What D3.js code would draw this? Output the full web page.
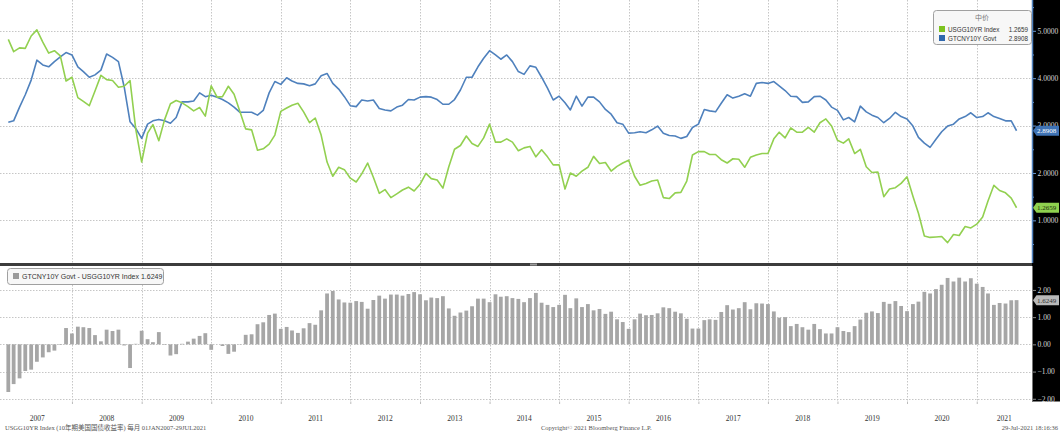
<!DOCTYPE html>
<html>
<head>
<meta charset="utf-8">
<script src="https://cdn.jsdelivr.net/npm/d3@7"></script>
<style>
  html, body { margin: 0; padding: 0; background: #fff; }
  svg { display: block; }
</style>
</head>
<body>
<div id="chart"></div>
<script>
// Month-end yields, Jan 2007 .. Jul 2021 (last point = 29 Jul 2021)
const usYields = [
  4.82, 4.56, 4.64, 4.63, 4.89, 5.02, 4.76, 4.53, 4.58, 4.47, 3.94, 4.02,
  3.59, 3.51, 3.42, 3.73, 4.06, 3.97, 3.95, 3.81, 3.83, 3.95, 2.92, 2.23,
  2.84, 3.02, 2.68, 3.12, 3.46, 3.53, 3.48, 3.40, 3.31, 3.38, 3.20, 3.84,
  3.60, 3.61, 3.83, 3.66, 3.29, 2.93, 2.91, 2.48, 2.51, 2.61, 2.80, 3.30,
  3.37, 3.43, 3.47, 3.29, 3.06, 3.16, 2.80, 2.23, 1.93, 2.12, 2.07, 1.89,
  1.81, 1.98, 2.21, 1.91, 1.57, 1.65, 1.48, 1.56, 1.64, 1.70, 1.62, 1.76,
  1.99, 1.88, 1.85, 1.68, 2.13, 2.50, 2.58, 2.78, 2.62, 2.56, 2.74, 3.03,
  2.65, 2.65, 2.72, 2.65, 2.47, 2.53, 2.56, 2.34, 2.49, 2.34, 2.17, 2.17,
  1.66, 2.00, 1.93, 2.04, 2.12, 2.35, 2.20, 2.22, 2.04, 2.14, 2.21, 2.27,
  1.93, 1.74, 1.78, 1.83, 1.85, 1.48, 1.46, 1.58, 1.59, 1.83, 2.38, 2.45,
  2.45, 2.39, 2.39, 2.28, 2.21, 2.30, 2.29, 2.12, 2.33, 2.38, 2.41, 2.41,
  2.72, 2.86, 2.74, 2.95, 2.86, 2.86, 2.96, 2.86, 3.06, 3.14, 2.99, 2.69,
  2.63, 2.72, 2.41, 2.50, 2.13, 2.01, 2.02, 1.50, 1.66, 1.69, 1.78, 1.92,
  1.51, 1.15, 0.67, 0.64, 0.65, 0.66, 0.53, 0.70, 0.68, 0.87, 0.84, 0.92,
  1.07, 1.41, 1.74, 1.63, 1.58, 1.47, 1.2659
];

const cnYields = [
  3.07, 3.10, 3.39, 3.65, 3.96, 4.38, 4.28, 4.24, 4.35, 4.45, 4.54, 4.49,
  4.24, 4.14, 4.02, 4.07, 4.17, 4.51, 4.44, 4.35, 3.82, 3.08, 2.94, 2.73,
  3.03, 3.10, 3.13, 3.10, 3.05, 3.17, 3.50, 3.50, 3.52, 3.69, 3.61, 3.64,
  3.60, 3.55, 3.48, 3.39, 3.28, 3.28, 3.28, 3.22, 3.32, 3.69, 3.93, 3.87,
  4.01, 3.94, 3.89, 3.88, 3.84, 3.88, 4.05, 4.10, 3.89, 3.77, 3.61, 3.42,
  3.40, 3.54, 3.52, 3.54, 3.36, 3.33, 3.31, 3.39, 3.43, 3.55, 3.54, 3.60,
  3.61, 3.60, 3.55, 3.45, 3.45, 3.55, 3.75, 4.02, 4.02, 4.24, 4.42, 4.58,
  4.49, 4.40, 4.49, 4.35, 4.14, 4.08, 4.26, 4.23, 4.02, 3.79, 3.54, 3.62,
  3.48, 3.33, 3.62, 3.41, 3.60, 3.60, 3.50, 3.34, 3.24, 3.06, 3.03, 2.84,
  2.85, 2.87, 2.85, 2.91, 2.99, 2.84, 2.79, 2.78, 2.73, 2.77, 2.96, 3.03,
  3.34, 3.31, 3.29, 3.47, 3.65, 3.58, 3.62, 3.67, 3.62, 3.89, 3.91, 3.89,
  3.93, 3.84, 3.74, 3.62, 3.61, 3.49, 3.50, 3.61, 3.62, 3.54, 3.39, 3.32,
  3.12, 3.17, 3.08, 3.41, 3.29, 3.22, 3.17, 3.06, 3.15, 3.28, 3.19, 3.14,
  2.99, 2.75, 2.63, 2.54, 2.71, 2.87, 2.99, 3.03, 3.14, 3.19, 3.27, 3.17,
  3.19, 3.27, 3.19, 3.15, 3.10, 3.10, 2.8908
];

// GTCNY10Y - USGG10YR
const spreadValues = [
  -1.75, -1.46, -1.25, -0.98, -0.93, -0.64, -0.48, -0.29, -0.23, -0.02, 0.60, 0.40,
  0.65, 0.63, 0.60, 0.34, 0.11, 0.54, 0.49, 0.54, -0.04, -0.87, 0.02, 0.50,
  0.19, 0.08, 0.45, -0.02, -0.41, -0.36, 0.02, 0.10, 0.21, 0.31, 0.41, -0.20,
  0.00, -0.06, -0.35, -0.27, -0.01, 0.35, 0.37, 0.74, 0.81, 1.08, 1.13, 0.57,
  0.64, 0.51, 0.42, 0.59, 0.78, 0.72, 1.25, 1.87, 1.96, 1.65, 1.54, 1.53,
  1.59, 1.56, 1.31, 1.63, 1.79, 1.68, 1.83, 1.83, 1.79, 1.85, 1.92, 1.84,
  1.62, 1.72, 1.70, 1.77, 1.32, 1.05, 1.17, 1.24, 1.40, 1.68, 1.68, 1.55,
  1.84, 1.75, 1.77, 1.70, 1.67, 1.55, 1.70, 1.89, 1.53, 1.45, 1.37, 1.45,
  1.82, 1.33, 1.69, 1.37, 1.48, 1.25, 1.30, 1.12, 1.20, 0.92, 0.82, 0.57,
  0.92, 1.13, 1.07, 1.08, 1.14, 1.36, 1.33, 1.20, 1.14, 0.94, 0.58, 0.58,
  0.89, 0.92, 0.90, 1.19, 1.44, 1.28, 1.33, 1.55, 1.29, 1.51, 1.50, 1.48,
  1.21, 0.98, 1.00, 0.67, 0.75, 0.63, 0.54, 0.75, 0.56, 0.40, 0.40, 0.63,
  0.49, 0.45, 0.67, 0.91, 1.16, 1.21, 1.15, 1.56, 1.49, 1.59, 1.41, 1.22,
  1.48, 1.57, 1.93, 1.87, 2.03, 2.19, 2.44, 2.31, 2.45, 2.31, 2.43, 2.23,
  2.11, 1.87, 1.45, 1.52, 1.50, 1.62, 1.6249
];

const yearLabels = d3.range(2007, 2022);
const topTicks = [1, 2, 3, 4, 5];
const topMinorTicks = [0.5, 1.5, 2.5, 3.5, 4.5, 5.5];
const bottomTicks = [-2, -1, 0, 1, 2];

// month-end points: 1st of next month, last one is the 29 Jul 2021 close
const monthEnds = d3.timeMonth.range(new Date(2007, 1, 1), new Date(2021, 7, 1));
monthEnds.push(new Date(2021, 6, 29));

const width = 1060;
const height = 432;
const plotRight = 1032;
const topPanel = { top: 0, bottom: 263 };
const bottomPanel = { top: 266, bottom: 401.5 };

const usColor = "#92d050";
const cnColor = "#4f81bd";
const barColor = "#a6a6a6";
const gridColor = "#c6c6c6";

const svg = d3.select("#chart")
  .append("svg")
  .attr("width", width)
  .attr("height", height);

const x = d3.scaleTime()
  .domain([new Date(2007, 0, 1), new Date(2021, 9, 18)])
  .range([2.4, plotRight]);

const yTop = d3.scaleLinear()
  .domain([0.1, 5.65])
  .range([topPanel.bottom, topPanel.top]);

const yBottom = d3.scaleLinear()
  .domain([-2.1, 2.85])
  .range([bottomPanel.bottom, bottomPanel.top + 0.8]);

const yearStarts = d3.timeYear.range(new Date(2008, 0, 1), new Date(2022, 0, 1))
  .filter(d => x(d) < plotRight);

// Grid
const grid = svg.append("g")
  .attr("stroke", gridColor)
  .attr("stroke-dasharray", "1.5,1.5");

grid.selectAll(".vgrid")
  .data(yearStarts)
  .join("line")
  .attr("x1", d => Math.round(x(d)) + 0.5)
  .attr("x2", d => Math.round(x(d)) + 0.5)
  .attr("y1", 0)
  .attr("y2", bottomPanel.bottom);

grid.selectAll(".hgrid-top")
  .data(topTicks)
  .join("line")
  .attr("x1", 0)
  .attr("x2", plotRight)
  .attr("y1", d => Math.round(yTop(d)) + 0.5)
  .attr("y2", d => Math.round(yTop(d)) + 0.5);

grid.selectAll(".hgrid-bottom")
  .data(bottomTicks)
  .join("line")
  .attr("x1", 0)
  .attr("x2", plotRight)
  .attr("y1", d => Math.round(yBottom(d)) + 0.5)
  .attr("y2", d => Math.round(yBottom(d)) + 0.5);

// Spread bars
svg.append("g")
  .selectAll("rect")
  .data(spreadValues)
  .join("rect")
  .attr("x", (d, i) => x(monthEnds[i]) - 1.9)
  .attr("width", 3.8)
  .attr("y", d => yBottom(Math.max(0, d)))
  .attr("height", d => Math.abs(yBottom(d) - yBottom(0)))
  .attr("fill", barColor);

// Yield lines
const line = d3.line()
  .x((d, i) => x(monthEnds[i]))
  .y(d => yTop(d));

svg.append("path")
  .datum(cnYields)
  .attr("fill", "none")
  .attr("stroke", cnColor)
  .attr("stroke-width", 1.6)
  .attr("stroke-linejoin", "round")
  .attr("d", line);

svg.append("path")
  .datum(usYields)
  .attr("fill", "none")
  .attr("stroke", usColor)
  .attr("stroke-width", 1.6)
  .attr("stroke-linejoin", "round")
  .attr("d", line);

// Panel separator with splitter handle
svg.append("rect")
  .attr("x", 0)
  .attr("y", topPanel.bottom)
  .attr("width", plotRight)
  .attr("height", 3)
  .attr("fill", "#3c3c3c");

svg.append("rect")
  .attr("x", 530)
  .attr("y", topPanel.bottom + 0.5)
  .attr("width", 7)
  .attr("height", 2)
  .attr("fill", "#9a9a9a");

// Right axis panel
svg.append("rect")
  .attr("x", plotRight)
  .attr("y", 0)
  .attr("width", width - plotRight)
  .attr("height", bottomPanel.bottom)
  .attr("fill", "#000");

const axisFont = "'Liberation Serif', 'DejaVu Serif', serif";

const topAxis = svg.append("g")
  .attr("transform", `translate(${plotRight},0)`)
  .call(d3.axisRight(yTop).tickValues(topTicks).tickFormat(d3.format(".4f")).tickSize(4).tickPadding(1.5));
topAxis.select(".domain").remove();
topAxis.selectAll("line").attr("stroke", "#6a9ad6");
topAxis.selectAll("text")
  .attr("fill", "#d9d9d9")
  .style("font-family", axisFont)
  .style("font-size", "7.5px");

const topMinor = svg.append("g")
  .attr("transform", `translate(${plotRight},0)`)
  .call(d3.axisRight(yTop).tickValues(topMinorTicks).tickFormat("").tickSize(2));
topMinor.select(".domain").remove();
topMinor.selectAll("line").attr("stroke", "#6a9ad6");

svg.append("line")
  .attr("x1", plotRight + 0.5)
  .attr("x2", plotRight + 0.5)
  .attr("y1", 0)
  .attr("y2", topPanel.bottom)
  .attr("stroke", "#4f81bd")
  .attr("stroke-width", 1.5);

const bottomAxis = svg.append("g")
  .attr("transform", `translate(${plotRight},0)`)
  .call(d3.axisRight(yBottom).tickValues(bottomTicks).tickFormat(d3.format(".2f")).tickSize(4).tickPadding(1.5));
bottomAxis.select(".domain").remove();
bottomAxis.selectAll("line").attr("stroke", "#8a8a8a");
bottomAxis.selectAll("text")
  .attr("fill", "#d9d9d9")
  .style("font-family", axisFont)
  .style("font-size", "7.5px");

svg.append("line")
  .attr("x1", plotRight + 0.5)
  .attr("x2", plotRight + 0.5)
  .attr("y1", bottomPanel.top)
  .attr("y2", bottomPanel.bottom)
  .attr("stroke", "#777")
  .attr("stroke-width", 1);

// Last-value tags on the right axis
function drawTag(yc, label, fill, textColor) {
  const tag = svg.append("g");
  tag.append("path")
    .attr("d", `M${plotRight + 1},${yc} L${plotRight + 4.5},${yc - 5} H${width - 1} V${yc + 5} H${plotRight + 4.5} Z`)
    .attr("fill", fill);
  tag.append("text")
    .attr("x", plotRight + 5)
    .attr("y", yc + 2.6)
    .attr("fill", textColor)
    .style("font-family", axisFont)
    .style("font-size", "7px")
    .text(label);
}

drawTag(yTop(cnYields[cnYields.length - 1]), d3.format(".4f")(cnYields[cnYields.length - 1]), "#3f73b5", "#ffffff");
drawTag(yTop(usYields[usYields.length - 1]), d3.format(".4f")(usYields[usYields.length - 1]), "#8fd14f", "#1b2f0a");
drawTag(yBottom(spreadValues[spreadValues.length - 1]), d3.format(".4f")(spreadValues[spreadValues.length - 1]), "#b9b9b9", "#333333");

// Year axis
const yearAxis = svg.append("g")
  .attr("transform", `translate(0,${bottomPanel.bottom})`)
  .call(d3.axisBottom(x).tickValues(yearStarts).tickFormat("").tickSize(2.5));
yearAxis.select(".domain").remove();
yearAxis.selectAll("line").attr("stroke", "#bbb");

svg.append("g")
  .selectAll("text")
  .data(yearLabels)
  .join("text")
  .attr("x", d => {
    const a = Math.max(0, x(new Date(d, 0, 1)));
    const b = Math.min(plotRight, x(new Date(d + 1, 0, 1)));
    return (a + b) / 2;
  })
  .attr("y", 421)
  .attr("text-anchor", "middle")
  .attr("fill", "#333")
  .style("font-family", axisFont)
  .style("font-size", "7.5px")
  .text(d => d);

// Legends
const legendFont = "'Liberation Sans', 'DejaVu Sans', sans-serif";

const topLegend = svg.append("g").attr("transform", "translate(933,10)");
topLegend.append("rect")
  .attr("x", 0.5)
  .attr("y", 0.5)
  .attr("width", 98)
  .attr("height", 34)
  .attr("rx", 3)
  .attr("fill", "#f7f7f7")
  .attr("stroke", "#a0a0a0");
topLegend.append("text")
  .attr("x", 49)
  .attr("y", 10)
  .attr("text-anchor", "middle")
  .attr("fill", "#777")
  .style("font-family", "'Noto Sans CJK SC', sans-serif")
  .style("font-size", "7px")
  .text("中价");

const topLegendItems = [
  { name: "USGG10YR Index", value: usYields[usYields.length - 1], color: "#7dc31f" },
  { name: "GTCNY10Y Govt", value: cnYields[cnYields.length - 1], color: "#2f67ad" }
];
topLegendItems.forEach((item, i) => {
  const row = topLegend.append("g").attr("transform", `translate(0,${16 + i * 9})`);
  row.append("rect")
    .attr("x", 6)
    .attr("y", 0)
    .attr("width", 6)
    .attr("height", 6)
    .attr("fill", item.color);
  row.append("text")
    .attr("x", 15)
    .attr("y", 5.8)
    .attr("fill", "#333")
    .style("font-family", legendFont)
    .style("font-size", "6.3px")
    .text(item.name);
  row.append("text")
    .attr("x", 95)
    .attr("y", 5.8)
    .attr("text-anchor", "end")
    .attr("fill", "#333")
    .style("font-family", legendFont)
    .style("font-size", "6.3px")
    .text(d3.format(".4f")(item.value));
});

const bottomLegend = svg.append("g").attr("transform", "translate(7,268)");
bottomLegend.append("rect")
  .attr("x", 0.5)
  .attr("y", 0.5)
  .attr("width", 156)
  .attr("height", 16)
  .attr("rx", 3)
  .attr("fill", "#f7f7f7")
  .attr("stroke", "#a0a0a0");
bottomLegend.append("rect")
  .attr("x", 6)
  .attr("y", 5)
  .attr("width", 6)
  .attr("height", 6)
  .attr("fill", "#9a9a9a");
bottomLegend.append("text")
  .attr("x", 15)
  .attr("y", 11)
  .attr("fill", "#333")
  .style("font-family", legendFont)
  .style("font-size", "7px")
  .text("GTCNY10Y Govt - USGG10YR Index " + d3.format(".4f")(spreadValues[spreadValues.length - 1]));

// Footer
const footer = svg.append("g")
  .attr("fill", "#555")
  .style("font-family", "'Liberation Serif', 'Noto Sans CJK SC', serif")
  .style("font-size", "6.5px");
footer.append("text")
  .attr("x", 5)
  .attr("y", 429.5)
  .text("USGG10YR Index (10年期美国国债收益率)  每月 01JAN2007-29JUL2021");
footer.append("text")
  .attr("x", 541)
  .attr("y", 429.5)
  .text("Copyright© 2021 Bloomberg Finance L.P.");
footer.append("text")
  .attr("x", 1058)
  .attr("y", 429.5)
  .attr("text-anchor", "end")
  .text("29-Jul-2021 18:16:36");
</script>
</body>
</html>
